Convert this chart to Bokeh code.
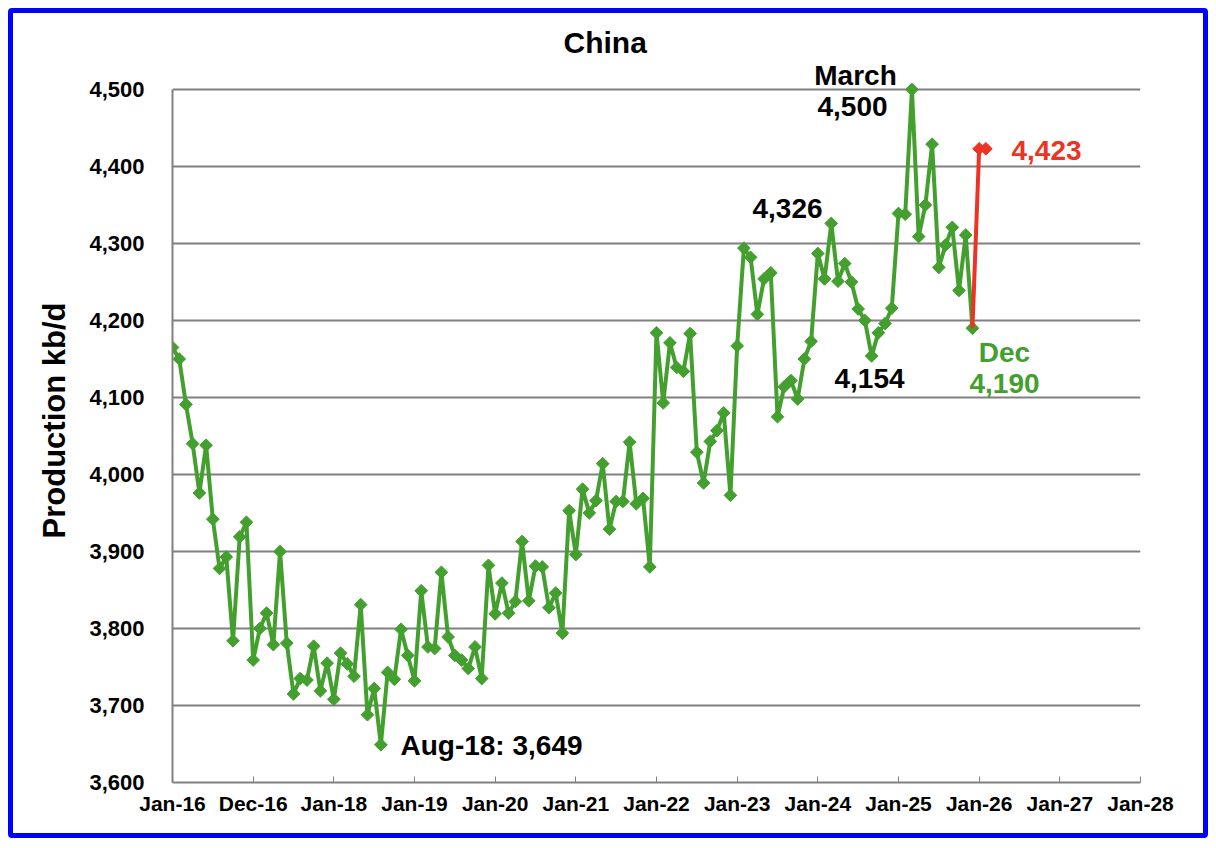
import math
from bokeh.plotting import figure
from bokeh.models import FixedTicker, NumeralTickFormatter, Label, Range1d
from bokeh.embed import file_html
from bokeh.resources import INLINE

# ---------------- data ----------------
production = [
    4165, 4150, 4091, 4040, 3976, 4038, 3942, 3878, 3893, 3784, 3919, 3938,  # 2016
    3759, 3800, 3820, 3779, 3900, 3781, 3715, 3735, 3733, 3777, 3719, 3755,  # 2017
    3708, 3768, 3754, 3738, 3831, 3688, 3722, 3649, 3743, 3734, 3799, 3765,  # 2018
    3732, 3849, 3776, 3774, 3873, 3789, 3765, 3759, 3748, 3776, 3735, 3882,  # 2019
    3819, 3859, 3820, 3835, 3913, 3836, 3881, 3880, 3827, 3846, 3794, 3953,  # 2020
    3896, 3981, 3950, 3966, 4014, 3929, 3965, 3965, 4042, 3962, 3969, 3880,  # 2021
    4184, 4093, 4171, 4139, 4134, 4183, 4029, 3989, 4043, 4057, 4080, 3973,  # 2022
    4167, 4294, 4282, 4208, 4254, 4262, 4075, 4114, 4122, 4098, 4150, 4173,  # 2023
    4287, 4254, 4326, 4251, 4274, 4250, 4215, 4200, 4154, 4184, 4196, 4216,  # 2024
    4339, 4338, 4500, 4309, 4350, 4429, 4269, 4298, 4321, 4239, 4311, 4190,  # 2025
]
months = list(range(len(production)))  # month index, 0 = Jan-16

recent_months = [119, 120, 121]        # Dec-25, Jan-26, Feb-26
recent_values = [4190, 4423, 4423]

tick_labels = ["Jan-16", "Dec-16", "Jan-18", "Jan-19", "Jan-20", "Jan-21", "Jan-22",
               "Jan-23", "Jan-24", "Jan-25", "Jan-26", "Jan-27", "Jan-28"]
tick_months = [12 * i for i in range(len(tick_labels))]
y_ticks = list(range(3600, 4501, 100))

GREEN = "#43A02E"
RED = "#EE3224"
GRAY = "#808080"
FONT = "Liberation Sans"

PX_PER_MONTH = 968 / 144
PX_PER_UNIT = 693 / 900
FRAME_H = 724
Y_TOP = 3600 + FRAME_H / PX_PER_UNIT   # extra room above 4,500 for notes

p = figure(
    title="China",
    frame_width=968, frame_height=FRAME_H,
    min_border_left=159, min_border_right=63, min_border_top=45, min_border_bottom=51,
    x_range=Range1d(0, 144), y_range=Range1d(3600, Y_TOP),
    output_backend="svg", toolbar_location=None,
)
p.styles = {"border": "5px solid #0000FF", "border-radius": "4px",
            "margin-left": "8px", "margin-top": "8px"}
p.outline_line_color = None
p.background_fill_color = "white"

p.title.text_font = FONT
p.title.text_font_style = "bold"
p.title.text_font_size = "30px"
p.title.text_color = "black"
p.title.align = "left"
p.title.offset = 391
p.title.standoff = 0

# grid
p.xgrid.grid_line_color = None
p.ygrid.grid_line_color = GRAY
p.ygrid.grid_line_width = 2
p.ygrid.ticker = FixedTicker(ticks=y_ticks)

# y axis
p.yaxis.ticker = FixedTicker(ticks=y_ticks)
p.yaxis.bounds = (3600, 4500)
p.yaxis.formatter = NumeralTickFormatter(format="0,0")
p.yaxis.axis_line_color = GRAY
p.yaxis.axis_line_width = 2
p.yaxis.major_tick_out = 0
p.yaxis.major_tick_in = 0
p.yaxis.minor_tick_line_color = None
p.yaxis.major_label_text_font = FONT
p.yaxis.major_label_text_font_style = "bold"
p.yaxis.major_label_text_font_size = "22px"
p.yaxis.major_label_text_color = "black"
p.yaxis.major_label_standoff = 28
p.yaxis.axis_label = "Production kb/d"
p.yaxis.axis_label_text_font = FONT
p.yaxis.axis_label_text_font_style = "bold"
p.yaxis.axis_label_text_font_size = "31px"
p.yaxis.axis_label_text_color = "black"
p.yaxis.axis_label_standoff = 14

# x axis
p.xaxis.ticker = FixedTicker(ticks=tick_months)
p.xaxis.major_label_overrides = {m: lab for m, lab in zip(tick_months, tick_labels)}
p.xaxis.axis_line_color = GRAY
p.xaxis.axis_line_width = 2
p.xaxis.major_tick_in = 6
p.xaxis.major_tick_out = 0
p.xaxis.major_tick_line_color = GRAY
p.xaxis.major_tick_line_width = 1
p.xaxis.minor_tick_line_color = None
p.xaxis.major_label_text_font = FONT
p.xaxis.major_label_text_font_style = "bold"
p.xaxis.major_label_text_font_size = "21px"
p.xaxis.major_label_text_color = "black"
p.xaxis.major_label_standoff = 9

# series
p.line(months, production, line_color=GREEN, line_width=4)
p.scatter(months, production, marker="square", angle=math.pi / 4, size=9,
          fill_color=GREEN, line_color=GREEN)
p.line(recent_months, recent_values, line_color=RED, line_width=4)
p.scatter(recent_months[1:], recent_values[1:], marker="square", angle=math.pi / 4, size=9,
          fill_color=RED, line_color=RED)


# ---------------- text ----------------
def add_text(text, xpix, ypix, size, color="black"):
    # page-pixel positions converted into the plot's data coordinates
    x = (xpix - 172) / PX_PER_MONTH
    y = 3600 + (782 - ypix) / PX_PER_UNIT
    p.add_layout(Label(x=x, y=y, text=text, text_font=FONT, text_font_style="bold",
                       text_font_size=size, text_color=color, text_align="center",
                       text_baseline="middle"))


add_text("March", 855, 75, "28px")
add_text("4,500", 852, 106, "28px")
add_text("4,326", 787, 208, "28px")
add_text("4,154", 869, 378, "28px")
add_text("Dec", 1004, 352, "28px", color=GREEN)
add_text("4,190", 1004, 383, "28px", color=GREEN)
add_text("4,423", 1046, 150, "28px", color=RED)
add_text("Aug-18: 3,649", 491, 745, "28px")

open("out.html", "w").write(file_html(p, INLINE))
